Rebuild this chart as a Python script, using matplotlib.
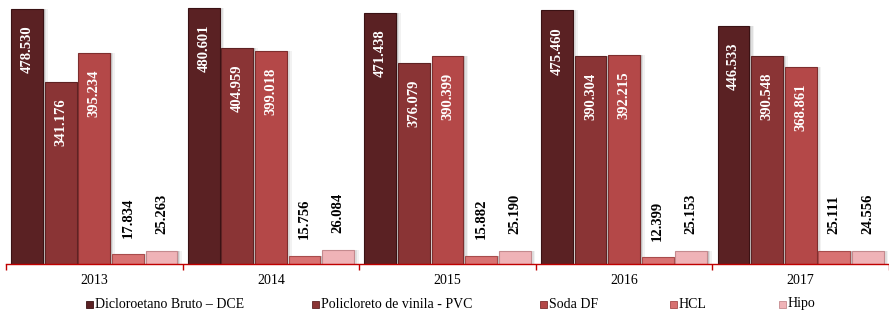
import matplotlib
matplotlib.use("Agg")
import matplotlib.pyplot as plt
from matplotlib.patches import Rectangle
import numpy as np

years = ["2013", "2014", "2015", "2016", "2017"]
series_names = ["Dicloroetano Bruto – DCE", "Policloreto de vinila - PVC",
                "Soda DF", "HCL", "Hipo"]
dce = [478.530, 480.601, 471.438, 475.460, 446.533]
pvc = [341.176, 404.959, 376.079, 390.304, 390.548]
soda = [395.234, 399.018, 390.399, 392.215, 368.861]
hcl = [17.834, 15.756, 15.882, 12.399, 25.111]
hipo = [25.263, 26.084, 25.190, 25.153, 24.556]

colors = ["#5a2123", "#8a3435", "#b44848", "#d87272", "#efb3b7"]
edges = ["#3a1214", "#5e2223", "#7e2e2e", "#a84c4c", "#c48a8e"]

plt.rcParams["font.family"] = ["Liberation Serif", "DejaVu Serif"]

fig = plt.figure(figsize=(8.89, 3.11), dpi=100)
ax = fig.add_axes([6 / 889, 1 - 264 / 311, 883 / 889, 264 / 311])

all_series = [dce, pvc, soda, hcl, hipo]
x = np.arange(len(years)) + 0.5
step = 0.19
width = 0.18

for j, vals in enumerate(all_series):
    pos = x + (j - 2) * step
    # soft shadow
    for k, a in enumerate([0.12, 0.08, 0.05]):
        ax.bar(pos + 0.009 * (k + 1), vals, width, color="#000000",
               alpha=a, zorder=1, linewidth=0)
    ax.bar(pos, vals, width, color=colors[j], edgecolor=edges[j],
           linewidth=0.8, zorder=3)
    for p, v in zip(pos, vals):
        label = f"{v:.3f}"
        if v > 100:
            ax.annotate(label, (p, v), xytext=(0, -12), textcoords="offset points",
                        rotation=90, ha="center", va="top", color="white",
                        fontsize=10.5, fontweight="bold", zorder=4)
        else:
            ax.annotate(label, (p, v), xytext=(0, 12), textcoords="offset points",
                        rotation=90, ha="center", va="bottom", color="black",
                        fontsize=10.5, fontweight="bold", zorder=4)

ax.set_xlim(0, 883 / 177.5)
ax.set_ylim(0, 495)
ax.set_yticks([])
for s in ["top", "right", "left"]:
    ax.spines[s].set_visible(False)
ax.spines["bottom"].set_color("#c00000")
ax.spines["bottom"].set_linewidth(1.0)
ax.spines["bottom"].set_zorder(5)

ax.set_xticks(np.arange(len(years) + 1), minor=False)
ax.set_xticklabels([])
ax.tick_params(axis="x", which="major", length=4, color="#c00000", width=1.0)
ax.set_xticks(x, minor=True)
ax.set_xticklabels(years, minor=True, fontsize=10)
ax.tick_params(axis="x", which="minor", length=0, pad=7)

# legend drawn manually, Excel style
leg_x = [86, 312, 540, 670, 779]
for j, name in enumerate(series_names):
    fx = leg_x[j] / 889
    fy = 1 - 308 / 311
    fig.patches.append(Rectangle((fx, fy), 7 / 889, 7 / 311, transform=fig.transFigure,
                                 facecolor=colors[j], edgecolor=edges[j], linewidth=0.6))
    fig.text(fx + 9 / 889, 1 - 304 / 311, name, fontsize=10, va="center", ha="left")

fig.savefig("out.png", dpi=100)
